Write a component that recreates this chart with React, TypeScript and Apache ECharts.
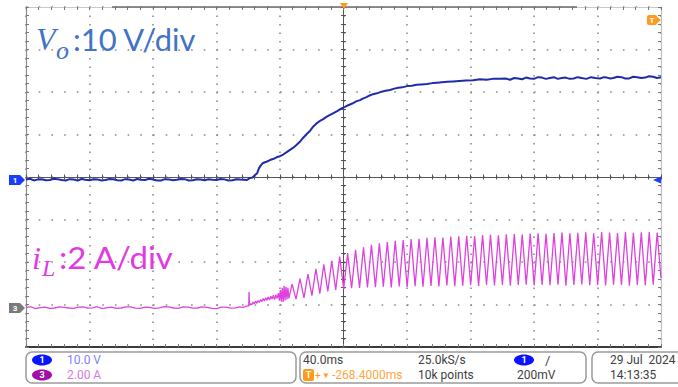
import React, { useEffect, useRef } from "react";
import * as echarts from "echarts";

// Time in ms across the 10 divisions (40 ms/div), channel values in physical units
const voData: [number, number][] = [
  [0, 0.1], [2.5, 0.3], [5, -0.1], [7.5, 0.15], [10, 0.2], [12.5, -0.05], [15, 0], [17.5, 0.3], [20, 0.2],
  [22.5, 0], [25, -0.1], [27.5, 0.2], [30, 0.1], [32.5, -0.1], [35, 0.25], [37.5, 0.05], [40, -0.05],
  [42.5, 0.2], [45, 0.15], [47.5, -0.1], [50, 0], [52.5, 0.25], [55, 0.2], [57.5, -0.05], [60, -0.1],
  [62.5, 0.2], [65, 0.1], [67.5, -0.1], [70, 0.25], [72.5, 0.05], [75, 0], [77.5, 0.3], [80, 0.1],
  [82.5, -0.1], [85, -0.1], [87.5, 0.2], [90, 0.15], [92.5, -0.05], [95, 0.05], [97.5, 0.25], [100, 0.2],
  [102.5, -0.1], [105, -0.05], [107.5, 0.2], [110, 0.1], [112.5, -0.05], [115, 0.2], [117.5, 0.05],
  [120, 0], [122.5, 0.25], [125, 0.15], [127.5, -0.1], [130, -0.05], [132.5, 0.2], [135, 0.1], [139.2, 0],
  [141.1, 0.5], [142.7, 0.6], [144.3, 1.2], [145.6, 1.6], [146.8, 2.8], [148, 3.5], [149.3, 4.0],
  [151.5, 4.3], [153.7, 4.7], [156, 5.0], [158.1, 5.4], [160, 5.6], [162, 6.0], [164, 6.5], [166.3, 7.1],
  [168.4, 7.6], [170.5, 8.3], [172.5, 9.0], [174.5, 9.9], [177, 10.9], [179, 11.6], [181, 12.6],
  [183.3, 13.4], [185.5, 14.0], [187.5, 14.4], [189.5, 14.9], [191.5, 15.3], [194, 15.8], [196, 16.2],
  [198.5, 16.8], [200.9, 17.2], [203, 17.6], [205.5, 18.0], [208, 18.5], [210.4, 18.8], [212.5, 19.2],
  [214.5, 19.5], [216.5, 19.9], [218.6, 20.2], [221, 20.4], [224, 20.8], [226.5, 21.0], [229.3, 21.2],
  [232, 21.5], [234.5, 21.7], [237, 21.8], [240, 22.1], [243, 22.2], [246, 22.4], [249, 22.5],
  [252.6, 22.6], [256, 22.8], [259, 22.9], [262, 23.0], [265.2, 23.1], [269, 23.2], [273, 23.3],
  [277, 23.4], [281.6, 23.5], [286, 23.7], [290, 23.6], [294, 23.8], [298.6, 23.8], [302, 23.9],
  [305, 23.6], [307.5, 24.0], [310, 23.9], [312.5, 23.7], [315, 24.1], [317.5, 23.9], [320, 23.8],
  [322.5, 24.2], [325, 24.1], [327.5, 23.8], [330, 24.0], [332.5, 24.2], [335, 23.8], [337.5, 24.0],
  [340, 24.1], [342.5, 23.8], [345, 23.9], [347.5, 24.2], [350, 24.0], [353, 23.8], [356, 24.2],
  [358.5, 24.0], [361.6, 23.9], [364, 24.2], [366, 24.1], [368, 23.9], [370, 24.0], [372.5, 24.3],
  [375, 24.2], [377.5, 23.9], [380, 23.9], [382.5, 24.3], [385, 24.2], [387.5, 24.0], [390, 24.1],
  [392.5, 24.4], [395, 24.3], [397.5, 24.0], [400, 24.2],
];

const iLFlat: [number, number][] = [
  [0, 0.02], [3, 0.06], [6, -0.03], [9, 0.02], [12, 0.04], [15, -0.02], [18, 0], [21, 0.05], [24, 0.03],
  [27, 0], [30, -0.02], [33, 0.04], [36, 0.05], [39, -0.01], [42, 0.01], [45, 0.06], [48, -0.03],
  [51, 0.02], [54, 0.04], [57, -0.02], [60, 0], [63, 0.05], [66, 0.05], [69, -0.01], [72, -0.02],
  [75, 0.04], [78, 0.03], [81, -0.02], [84, 0.01], [87, 0.06], [90, 0.05], [93, 0], [96, -0.02],
  [99, 0.05], [102, 0.04], [105, -0.01], [108, 0], [111, 0.05], [114, 0.03], [117, -0.02], [120, -0.03],
  [123, 0.04], [126, 0.04], [129, -0.01], [132, 0.01], [134.5, 0.05], [136.7, 0.03],
];

const iLNoise: [number, number][] = [
  [138.5, 0.08], [139.8, 0.1], [140.3, 0.1], [140.5, 0.75], [140.8, 0.12], [141.5, 0.2], [142.3, 0.15],
  [143.0, 0.28], [143.8, 0.2], [144.6, 0.32], [145.4, 0.22], [146.2, 0.35], [147.0, 0.26], [147.8, 0.4],
  [148.6, 0.3], [149.4, 0.45], [150.2, 0.33], [151.0, 0.48], [151.8, 0.36], [152.6, 0.52], [153.4, 0.38],
  [154.2, 0.55], [155.0, 0.42], [155.8, 0.6], [156.6, 0.4], [157.4, 0.62], [158.2, 0.45], [159.0, 0.7],
  [159.6, 0.35], [160.2, 0.85], [160.8, 0.3], [161.4, 0.95], [162.0, 0.28], [162.6, 1.05], [163.2, 0.35],
  [163.8, 1.0], [164.4, 0.4], [165.0, 0.95], [165.6, 0.45],
];

const iLRipple: [number, number][] = [
  [167.6, 1.12], [170.1, 0.42], [172.6, 1.38], [175.1, 0.48], [177.6, 1.60], [180.1, 0.58],
  [182.6, 1.84], [185.1, 0.68], [187.6, 2.05], [190.1, 0.78], [192.6, 2.22], [195.1, 0.85],
  [197.6, 2.42], [200.1, 0.90], [202.6, 2.58], [205.1, 0.93], [207.6, 2.74], [210.1, 0.95],
  [212.6, 2.86], [215.1, 0.97], [217.6, 2.97], [220.1, 0.98], [222.6, 3.04], [225.1, 1.00],
  [227.6, 3.10], [230.1, 0.97], [232.6, 3.16], [235.1, 1.02], [237.6, 3.20], [240.1, 0.99],
  [242.6, 3.25], [245.1, 1.03], [247.6, 3.26], [250.1, 1.00], [252.6, 3.30], [255.1, 1.04],
  [257.6, 3.33], [260.1, 1.02], [262.6, 3.32], [265.1, 1.06], [267.6, 3.36], [270.1, 1.03],
  [272.6, 3.38], [275.1, 1.05], [277.6, 3.40], [280.1, 1.07], [282.6, 3.39], [285.1, 1.04],
  [287.6, 3.43], [290.1, 1.08], [292.6, 3.44], [295.1, 1.06], [297.6, 3.42], [300.1, 1.09],
  [302.6, 3.47], [305.1, 1.05], [307.6, 3.48], [310.1, 1.08], [312.6, 3.46], [315.1, 1.10],
  [317.6, 3.50], [320.1, 1.06], [322.6, 3.52], [325.1, 1.09], [327.6, 3.49], [330.1, 1.07],
  [332.6, 3.53], [335.1, 1.10], [337.6, 3.55], [340.1, 1.05], [342.6, 3.51], [345.1, 1.08],
  [347.6, 3.54], [350.1, 1.11], [352.6, 3.56], [355.1, 1.07], [357.6, 3.52], [360.1, 1.09],
  [362.6, 3.57], [365.1, 1.06], [367.6, 3.55], [370.1, 1.10], [372.6, 3.53], [375.1, 1.08],
  [377.6, 3.57], [380.1, 1.05], [382.6, 3.54], [385.1, 1.09], [387.6, 3.56], [390.1, 1.07],
  [392.6, 3.58], [395.1, 1.10], [397.6, 3.55], [400, 1.4],
];

// Screen limits of each channel (8 divisions): Vo 10 V/div, iL 2 A/div
const voRange = [-39.29, 40.71];
const iLRange = [-1.835, 14.165];

const statusFont = "Roboto, 'Liberation Sans Narrow', sans-serif";

export default function App() {
  const ref = useRef<HTMLDivElement>(null);
  useEffect(() => {
    if (!ref.current) return;
    const chart = echarts.init(ref.current, undefined, { renderer: "svg" });
    const noLabel = { show: false };
    const noSplit = { show: false };
    const borderAxis = (color: string, width: number) => ({
      axisLine: { show: true, onZero: false, lineStyle: { color, width } },
      axisTick: { show: true, inside: true, length: 3, lineStyle: { color: "#777" } },
      minorTick: { show: true, splitNumber: 5, length: 3, lineStyle: { color: "#777" } },
      axisLabel: noLabel,
    });
    const centerAxis = (inside: boolean) => ({
      axisLine: { show: true, onZero: true, onZeroAxisIndex: 2, lineStyle: { color: "#555", width: 1 } },
      axisTick: { show: true, inside, length: 2.5, lineStyle: { color: "#555" } },
      minorTick: { show: true, splitNumber: 5, length: 2.5, lineStyle: { color: "#555" } },
      axisLabel: noLabel,
      splitLine: noSplit,
    });
    const txt = (text: string, x: number, y: number, fill: string, size = 12, extra: any = {}) => ({
      type: "text",
      z: 20,
      style: { text, x, y, fill, fontSize: size, fontFamily: statusFont, verticalAlign: "middle", align: "left", ...extra },
    });
    const badge = (cx: number, cy: number, color: string, label: string) => [
      { type: "ellipse", z: 20, shape: { cx, cy, rx: 10, ry: 5.5 }, style: { fill: color } },
      txt(label, cx, cy, "#fff", 9, { align: "center", fontWeight: "bold" }),
    ];
    const label = (text: string, x: number, y: number, fill: string, size: number, sx: number, serif: boolean) => ({
      type: "text",
      z: 20,
      x,
      y,
      scaleX: sx,
      style: {
        text, x: 0, y: 0, fill, fontSize: size,
        fontStyle: serif ? "italic" : "normal",
        fontFamily: serif ? "'Liberation Serif', serif" : "Lato, sans-serif",
        verticalAlign: "middle",
      },
    });
    const option: any = {
      animation: false,
      backgroundColor: "#fff",
      grid: { left: 26, right: 17, top: 7, bottom: 40, containLabel: false },
      xAxis: [
        {
          type: "value", min: 0, max: 400, interval: 40, position: "bottom",
          ...borderAxis("#3c3c3c", 2),
          splitLine: { show: true, lineStyle: { color: "#8a8a8a", width: 1.6, type: [1.6, 6.9] } },
        },
        { type: "value", min: 0, max: 400, interval: 40, position: "top", ...borderAxis("#c8c8c8", 1.2), splitLine: noSplit },
        { type: "value", min: -200, max: 200, interval: 40, position: "bottom", ...centerAxis(false) },
        { type: "value", min: -200, max: 200, interval: 40, position: "bottom", ...centerAxis(true) },
      ],
      yAxis: [
        {
          type: "value", min: 0, max: 8, interval: 1, position: "left",
          ...borderAxis("#8c8c8c", 1.2),
          splitLine: { show: true, lineStyle: { color: "#8a8a8a", width: 1.6, type: [1.6, 11.1] } },
        },
        { type: "value", min: 0, max: 8, interval: 1, position: "right", ...borderAxis("#c0c0c0", 1.2), splitLine: noSplit },
        { type: "value", min: -4, max: 4, interval: 1, position: "left", ...centerAxis(false) },
        { type: "value", min: -4, max: 4, interval: 1, position: "left", ...centerAxis(true) },
        { type: "value", min: voRange[0], max: voRange[1], show: false, splitLine: noSplit },
        { type: "value", min: iLRange[0], max: iLRange[1], show: false, splitLine: noSplit },
      ],
      series: [
        {
          type: "line", name: "iL", xAxisIndex: 0, yAxisIndex: 5,
          data: [...iLFlat, ...iLNoise, ...iLRipple],
          symbol: "none", lineStyle: { color: "#de42de", width: 1.3 }, z: 4,
        },
        {
          type: "line", name: "Vo", xAxisIndex: 0, yAxisIndex: 4,
          data: voData, symbol: "none", lineStyle: { color: "#1f2ca8", width: 2 }, z: 5,
        },
      ],
      graphic: [
        // record window indicator on top border
        { type: "line", z: 10, shape: { x1: 112, y1: 7, x2: 577, y2: 7 }, style: { stroke: "#6e6e6e", lineWidth: 1.6 } },
        // trigger position marker
        { type: "polygon", z: 10, shape: { points: [[340, 3], [348, 3], [344, 9]] }, style: { fill: "#ff9a1a" } },
        // trigger tag top-right
        { type: "rect", z: 10, shape: { x: 647, y: 15, width: 10, height: 10, r: 2 }, style: { fill: "#ff9a1a" } },
        { type: "polygon", z: 10, shape: { points: [[656, 16], [661, 20], [656, 24]] }, style: { fill: "#ff9a1a" } },
        txt("T", 652, 20, "#fff", 8, { align: "center", fontWeight: "bold" }),
        // trigger level arrow
        { type: "polygon", z: 10, shape: { points: [[661, 176.5], [661, 183.5], [653, 180]] }, style: { fill: "#1a3cff" } },
        // channel markers
        { type: "polygon", z: 10, shape: { points: [[9, 175], [20, 175], [25, 180], [20, 185], [9, 185]] }, style: { fill: "#1a3cff" } },
        txt("1", 15, 180, "#fff", 8, { align: "center", fontWeight: "bold" }),
        { type: "polygon", z: 10, shape: { points: [[9, 303], [20, 303], [25, 308], [20, 313], [9, 313]] }, style: { fill: "#7a7a7a" } },
        txt("3", 15, 308, "#fff", 8, { align: "center", fontWeight: "bold" }),
        // channel labels
        label("V", 36, 39, "#4472c4", 32, 1, true),
        label("o", 56, 50, "#4472c4", 26, 1, true),
        label(":10 V/div", 73, 39.5, "#4472c4", 30, 1.03, false),
        label("i", 32, 258, "#e23ae2", 32, 1, true),
        label("L", 42, 268, "#e23ae2", 24, 1, true),
        label(":2 A/div", 59, 258, "#e23ae2", 30, 1.1, false),
        // status bar boxes
        { type: "rect", z: 15, shape: { x: 26, y: 352, width: 270, height: 31, r: 6 }, style: { fill: "none", stroke: "#9a9a9a", lineWidth: 1.5 } },
        { type: "rect", z: 15, shape: { x: 300, y: 352, width: 286, height: 31, r: 6 }, style: { fill: "none", stroke: "#9a9a9a", lineWidth: 1.5 } },
        { type: "rect", z: 15, shape: { x: 592, y: 352, width: 120, height: 31, r: 6 }, style: { fill: "none", stroke: "#9a9a9a", lineWidth: 1.5 } },
        ...badge(42, 360, "#0a14ff", "1"),
        txt("10.0 V", 67, 360, "#7f7fff"),
        ...badge(42, 375, "#a010a8", "3"),
        txt("2.00 A", 67, 375, "#d47ae0"),
        txt("40.0ms", 303, 360, "#404040"),
        txt("25.0kS/s", 418, 360, "#404040"),
        ...badge(524, 360, "#0a14ff", "1"),
        txt("/", 545, 360, "#404040", 13),
        { type: "rect", z: 15, shape: { x: 303, y: 369, width: 11, height: 12, r: 2 }, style: { fill: "#ff9a1a" } },
        txt("T", 308.5, 375, "#fff", 9, { align: "center", fontWeight: "bold" }),
        txt("+", 315, 375, "#ff9a1a", 10),
        txt("▼", 322, 375, "#ff9a1a", 8),
        txt("-268.4000ms", 332, 375, "#ffa640"),
        txt("10k points", 418, 375, "#404040"),
        txt("200mV", 517, 375, "#404040"),
        txt("29 Jul  2024", 610, 360, "#404040"),
        txt("14:13:35", 610, 375, "#404040"),
      ],
    };
    chart.setOption(option);
    return () => chart.dispose();
  }, []);
  return (
    <div
      ref={ref}
      style={{ position: "fixed", left: 0, top: 0, width: 678, height: 387, background: "#fff" }}
    />
  );
}
